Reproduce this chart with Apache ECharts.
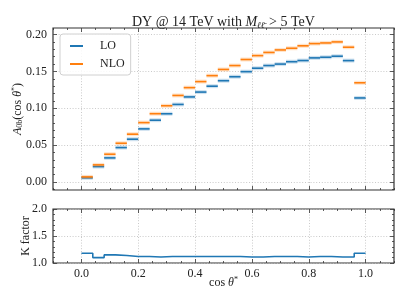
<!DOCTYPE html>
<html>
<head>
<meta charset="utf-8">
<script src="https://cdn.jsdelivr.net/npm/echarts@6/dist/echarts.min.js"></script>
<style>html,body{margin:0;padding:0;background:#fff}#c{width:407px;height:305px}</style>
</head>
<body>
<div id="c"></div>
<script>
// ---- data ----
const binEdges = [0.00,0.04,0.08,0.12,0.16,0.20,0.24,0.28,0.32,0.36,0.40,0.44,0.48,0.52,0.56,0.60,0.64,0.68,0.72,0.76,0.80,0.84,0.88,0.92,0.96,1.00];
const loValues = [0.0055,0.0208,0.0326,0.0466,0.0580,0.0720,0.0838,0.0925,0.1052,0.1154,0.1220,0.1300,0.1374,0.1428,0.1497,0.1544,0.1580,0.1600,0.1632,0.1648,0.1684,0.1693,0.1707,0.1647,0.1140];
const nloValues = [0.0068,0.0231,0.0376,0.0525,0.0648,0.0805,0.0926,0.1034,0.1174,0.1280,0.1362,0.1443,0.1527,0.1580,0.1662,0.1715,0.1758,0.1792,0.1815,0.1848,0.1878,0.1887,0.1901,0.1829,0.1346];
const kFactor = [1.18,1.10,1.15,1.14,1.12,1.12,1.11,1.12,1.12,1.12,1.12,1.12,1.12,1.12,1.11,1.11,1.12,1.12,1.12,1.11,1.12,1.12,1.11,1.11,1.18];
const xMajor = [0.0,0.2,0.4,0.6,0.8,1.0];
const xMinor = [-0.1,-0.05,0.05,0.1,0.15,0.25,0.3,0.35,0.45,0.5,0.55,0.65,0.7,0.75,0.85,0.9,0.95,1.05,1.1];
const yTopMajor = [0.00,0.05,0.10,0.15,0.20];
const yTopMinor = [-0.01,0.01,0.02,0.03,0.04,0.06,0.07,0.08,0.09,0.11,0.12,0.13,0.14,0.16,0.17,0.18,0.19];
const yBotMajor = [1.0,1.5,2.0];
const yBotMinor = [1.1,1.2,1.3,1.4,1.6,1.7,1.8,1.9];

// ---- build ----
const FONT = 'Liberation Serif';
const AX = '#333';
const TXT = '#222';
const C_LO = '#1f77b4', C_NLO = '#ff7f0e';

function segData(vals){ return vals.map((v,i)=>[binEdges[i], binEdges[i+1], v]); }
const stepData = kFactor.map((v,i)=>[binEdges[i], v]).concat([[binEdges[binEdges.length-1], kFactor[kFactor.length-1]]]);

function xAx(grid, pos, ticks, len, opts){
  return Object.assign({
    type:'value', gridIndex:grid, position:pos, min:-0.1, max:1.1,
    axisLine:{show:false, onZero:false},
    axisTick:{show:true, inside:true, length:len, customValues:ticks, lineStyle:{color:AX, width:0.8}},
    axisLabel:{show:false},
    splitLine:{show:false}
  }, opts||{});
}
function yAx(grid, pos, min, max, ticks, len, opts){
  return Object.assign({
    type:'value', gridIndex:grid, position:pos, min:min, max:max,
    axisLine:{show:false, onZero:false},
    axisTick:{show:true, inside:true, length:len, customValues:ticks, lineStyle:{color:AX, width:0.8}},
    axisLabel:{show:false},
    splitLine:{show:false}
  }, opts||{});
}
const grid0 = {left:53, right:13, top:28, height:162, show:true, borderColor:AX, borderWidth:1.2, backgroundColor:'transparent'};
const grid1 = {left:53, right:13, top:209, height:54, show:true, borderColor:AX, borderWidth:1.2, backgroundColor:'transparent'};
const gridLine = {show:true, lineStyle:{color:'#bdbdbd', type:[1,1.8], width:0.8}};
const tR = {fontFamily:FONT,fontSize:12,color:TXT,fontWeight:'normal'};
const tI = {fontFamily:FONT,fontStyle:'italic',fontSize:12,color:TXT,fontWeight:'normal'};

const xAxes = [
  xAx(0,'bottom',xMajor,4,{splitLine:gridLine}),
  xAx(0,'bottom',xMinor,2),
  xAx(0,'top',xMajor,4),
  xAx(0,'top',xMinor,2),
  xAx(1,'bottom',xMajor,4,{splitLine:gridLine,
    axisLabel:{show:true, customValues:xMajor, margin:5, color:TXT, fontFamily:FONT, fontSize:12, formatter:v=>v.toFixed(1)},
    name:'{t|cos }{i|θ}{s|*}', nameLocation:'middle', nameGap:13, nameMoveOverlap:false,
    nameTextStyle:{verticalAlign:'top', rich:{t:tR,i:tI,s:{fontFamily:FONT,fontSize:8,color:TXT,padding:[0,0,5,0]}}}}),
  xAx(1,'bottom',xMinor,2),
  xAx(1,'top',xMajor,4),
  xAx(1,'top',xMinor,2)
];
const yAxes = [
  yAx(0,'left',-0.011,0.209,yTopMajor,4,{splitLine:gridLine,
    axisLabel:{show:true, customValues:yTopMajor, margin:6, color:TXT, fontFamily:FONT, fontSize:12, formatter:v=>v.toFixed(2)},
    name:'{i|A}{s|0b}{t|(cos }{i|θ}{s2|*}{t|)}', nameLocation:'middle', nameGap:29, nameRotate:90, nameMoveOverlap:false,
    nameTextStyle:{rich:{t:tR,i:tI,s:{fontFamily:FONT,fontSize:8,color:TXT,padding:[5,0,0,0]},s2:{fontFamily:FONT,fontSize:8,color:TXT,padding:[0,0,5,0]}}}}),
  yAx(0,'left',-0.011,0.209,yTopMinor,2),
  yAx(0,'right',-0.011,0.209,yTopMajor,4),
  yAx(0,'right',-0.011,0.209,yTopMinor,2),
  yAx(1,'left',1.0,2.0,yBotMajor,4,{splitLine:gridLine,
    axisLabel:{show:true, customValues:yBotMajor, margin:6, color:TXT, fontFamily:FONT, fontSize:12, formatter:v=>v.toFixed(1)},
    name:'K factor', nameLocation:'middle', nameGap:21, nameRotate:90, nameMoveOverlap:false,
    nameTextStyle:{fontFamily:FONT,fontSize:12,color:TXT}}),
  yAx(1,'left',1.0,2.0,yBotMinor,2),
  yAx(1,'right',1.0,2.0,yBotMajor,4),
  yAx(1,'right',1.0,2.0,yBotMinor,2)
];

function segRender(color){
  return function(params, api){
    const p0 = api.coord([api.value(0), api.value(2)]);
    const p1 = api.coord([api.value(1), api.value(2)]);
    return {type:'group', children:[
      {type:'line', shape:{x1:p0[0],y1:p0[1],x2:p1[0],y2:p1[1]}, style:{stroke:color, lineWidth:4, opacity:0.22}},
      {type:'line', shape:{x1:p0[0],y1:p0[1],x2:p1[0],y2:p1[1]}, style:{stroke:color, lineWidth:1.6}}
    ]};
  };
}

const chart = echarts.init(document.getElementById('c'), null, {renderer:'canvas'});
chart.setOption({
  animation:false,
  backgroundColor:'#fff',
  title:{
    text:'{t|DY @ 14 TeV with }{i|M}{s|ℓℓ̄}{t| > 5 TeV}',
    left:127, top:9,
    textStyle:{fontWeight:'normal', rich:{
      t:{fontFamily:FONT,fontSize:14,color:TXT,fontWeight:'normal'},
      i:{fontFamily:FONT,fontStyle:'italic',fontSize:14,color:TXT,fontWeight:'normal'},
      s:{fontFamily:FONT,fontStyle:'italic',fontSize:9,color:TXT,fontWeight:'normal',padding:[7,1,0,0]}}}
  },
  legend:{
    left:60, top:34, orient:'vertical', padding:[6,6,5,10], itemGap:6,
    itemWidth:13, itemHeight:2, icon:'rect',
    borderColor:'#d0d0d0', borderWidth:1, borderRadius:3, backgroundColor:'rgba(255,255,255,0.85)',
    textStyle:{fontFamily:FONT, fontSize:12, color:TXT, padding:[0,0,0,12], width:28},
    data:['LO','NLO']
  },
  grid:[grid0, grid1],
  xAxis:xAxes,
  yAxis:yAxes,
  series:[
    {name:'LO', type:'custom', xAxisIndex:0, yAxisIndex:0, data:segData(loValues), encode:{x:[0,1], y:2}, itemStyle:{color:C_LO}, renderItem:segRender(C_LO), z:3},
    {name:'NLO', type:'custom', xAxisIndex:0, yAxisIndex:0, data:segData(nloValues), encode:{x:[0,1], y:2}, itemStyle:{color:C_NLO}, renderItem:segRender(C_NLO), z:4},
    {name:'K', type:'line', xAxisIndex:4, yAxisIndex:4, data:stepData, step:'end', showSymbol:false, symbol:'none', lineStyle:{color:C_LO, width:1.6}, z:3}
  ]
});
</script>
</body>
</html>
